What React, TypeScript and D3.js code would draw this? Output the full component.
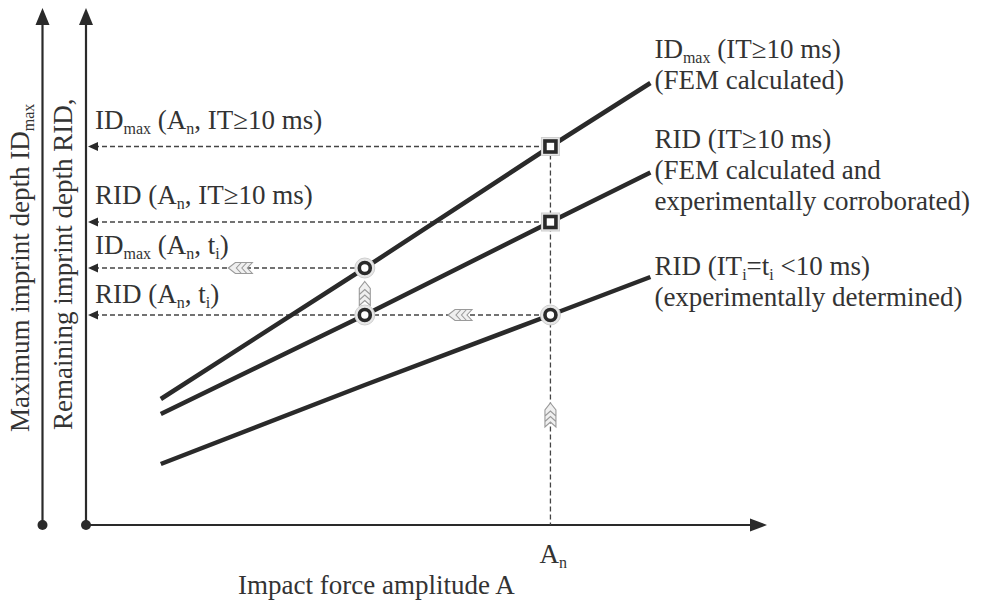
import * as d3 from "d3";

const W = 981;
const H = 603;

// impact force amplitude A (arbitrary units): line start, t_i point, A_n, line end
const amplitude = [1.1, 4.1, 6.83, 8.3];
const idMaxLong = [2.52, 5.14, 7.57, 8.84]; // ID_max (IT >= 10 ms), FEM calculated
const ridLong = [2.22, 4.2, 6.06, 7.05]; // RID (IT >= 10 ms), FEM + experiments
const ridShort = [1.22, 2.8, 4.2, 4.96]; // RID (IT_i = t_i < 10 ms), experiments

const A_N = 6.83;
const T_I = 4.1;

// [text, isSubscript]
type Part = [string, boolean?];

const guides: { a: number; d: number; dy: number; label: Part[] }[] = [
  { a: A_N, d: 7.57, dy: -18, label: [["ID"], ["max", true], [" (A"], ["n", true], [", IT≥10 ms)"]] },
  { a: A_N, d: 6.06, dy: -18, label: [["RID (A"], ["n", true], [", IT≥10 ms)"]] },
  { a: T_I, d: 5.14, dy: -14, label: [["ID"], ["max", true], [" (A"], ["n", true], [", t"], ["i", true], [")"]] },
  { a: A_N, d: 4.2, dy: -12, label: [["RID (A"], ["n", true], [", t"], ["i", true], [")"]] },
];

const squares = [
  { a: A_N, d: 7.57 },
  { a: A_N, d: 6.06 },
];
const circles = [
  { a: T_I, d: 5.14 },
  { a: T_I, d: 4.2 },
  { a: A_N, d: 4.2 },
];

// chevron markers: position + direction
const chevrons = [
  { a: 2.27, d: 5.14, dir: "left" },
  { a: 5.5, d: 4.2, dir: "left" },
  { a: T_I, d: 4.63, dir: "up" },
  { a: A_N, d: 2.2, dir: "up" },
];

const seriesLabels: { values: number[]; anchor: number; lines: Part[][] }[] = [
  { values: idMaxLong, anchor: 1, lines: [[["ID"], ["max", true], [" (IT≥10 ms)"]], [["(FEM calculated)"]]] },
  {
    values: ridLong,
    anchor: 1,
    lines: [[["RID (IT≥10 ms)"]], [["(FEM calculated and"]], [["experimentally corroborated)"]]],
  },
  {
    values: ridShort,
    anchor: 0,
    lines: [[["RID (IT"], ["i", true], ["=t"], ["i", true], [" <10 ms)"]], [["(experimentally determined)"]]],
  },
];

const ink = "#2a2a2a";
const textColor = "#333";
const font = "'Liberation Serif', 'Times New Roman', serif";

const x = d3.scaleLinear().domain([0, 10]).range([86, 766]);
const y = d3.scaleLinear().domain([0, 10]).range([525, 25]);

const Rich = ({ parts, size = 27, sub = 16, shift = 5, ...rest }: any) => {
  let down = false;
  return (
    <text fontSize={size} fill={textColor} style={{ whiteSpace: "pre" }} {...rest}>
      {parts.map(([t, s]: Part, i: number) => {
        let dy = 0;
        if (s && !down) dy = shift;
        if (!s && down) dy = -shift;
        down = !!s;
        return (
          <tspan key={i} dy={dy} fontSize={s ? sub : size}>
            {t}
          </tspan>
        );
      })}
    </text>
  );
};

const chevronPath =
  "M0,-12 L5.5,-5 L5.5,12 L0,7 L-5.5,12 L-5.5,-5 Z M-5.5,1 L0,-4 L5.5,1 M-5.5,6.5 L0,1.5 L5.5,6.5";

export default function App() {
  const line = d3
    .line<number>()
    .x((_, i) => x(amplitude[i]))
    .y((d) => y(d));

  const x0 = x(0);
  const yBase = y(0);
  const axis1 = x0 - 43.5;
  const yTip = 8;
  const lineEnd = x(amplitude[amplitude.length - 1]);

  return (
    <svg
      width={W}
      height={H}
      style={{ position: "absolute", left: 0, top: 0, background: "#fff" }}
      fontFamily={font}
    >
      {/* vertical axes */}
      {[axis1, x0].map((ax, i) => (
        <g key={i}>
          <line x1={ax} x2={ax} y1={yBase} y2={yTip + 10} stroke={ink} strokeWidth={2.2} />
          <path d={`M${ax},${yTip} L${ax + 7},${yTip + 17} L${ax - 7},${yTip + 17} Z`} fill={ink} />
          <circle cx={ax} cy={yBase} r={5} fill={ink} />
        </g>
      ))}
      {/* horizontal axis */}
      <line x1={x0} x2={x(10) - 10} y1={yBase} y2={yBase} stroke={ink} strokeWidth={2.2} />
      <path d={`M${x(10) + 1},${yBase} L${x(10) - 16},${yBase - 6.5} L${x(10) - 16},${yBase + 6.5} Z`} fill={ink} />

      {/* guide lines */}
      {guides.map((g, i) => (
        <g key={i}>
          <line
            x1={x0 + 8}
            x2={x(g.a)}
            y1={y(g.d)}
            y2={y(g.d)}
            stroke="#444"
            strokeWidth={1.3}
            strokeDasharray="5 3"
          />
          <path d={`M${x0 + 2},${y(g.d)} L${x0 + 12},${y(g.d) - 4.5} L${x0 + 12},${y(g.d) + 4.5} Z`} fill={ink} />
          <Rich parts={g.label} x={x0 + 9} y={y(g.d) + g.dy} />
        </g>
      ))}
      <line
        x1={x(A_N)}
        x2={x(A_N)}
        y1={y(squares[0].d)}
        y2={yBase}
        stroke="#444"
        strokeWidth={1.3}
        strokeDasharray="5 3"
      />

      {/* curves */}
      {[idMaxLong, ridLong, ridShort].map((s, i) => (
        <path key={i} d={line(s) ?? ""} fill="none" stroke={ink} strokeWidth={4.5} />
      ))}

      {/* chevrons */}
      {chevrons.map((c, i) => (
        <path
          key={i}
          d={chevronPath}
          transform={`translate(${x(c.a)},${y(c.d)}) rotate(${c.dir === "left" ? -90 : 0})`}
          fill="#f0f0f0"
          stroke="#9a9a9a"
          strokeWidth={1.1}
        />
      ))}

      {/* markers */}
      {circles.map((c, i) => (
        <g key={i} transform={`translate(${x(c.a)},${y(c.d)})`}>
          <circle r={10} fill="#e6e6e6" stroke="#cfcfcf" />
          <circle r={5.5} fill="#fff" stroke={ink} strokeWidth={3.6} />
        </g>
      ))}
      {squares.map((c, i) => (
        <g key={i} transform={`translate(${x(c.a)},${y(c.d)})`}>
          <rect x={-9} y={-9} width={18} height={18} fill="#e6e6e6" stroke="#cfcfcf" />
          <rect x={-5.5} y={-5.5} width={11} height={11} fill="#fff" stroke={ink} strokeWidth={3.6} />
        </g>
      ))}

      {/* series labels */}
      {seriesLabels.map((s, i) =>
        s.lines.map((ln, j) => (
          <Rich
            key={`${i}-${j}`}
            parts={ln}
            x={lineEnd + 4}
            y={y(s.values[s.values.length - 1]) + 6 + (j - s.anchor) * 31 - (s.anchor === 0 ? 8 : 0)}
          />
        ))
      )}

      {/* x tick label */}
      <Rich parts={[["A"], ["n", true]]} x={x(A_N) - 11} y={563} />
      <Rich parts={[["Impact force amplitude A"]]} x={238} y={594} />

      {/* y axis titles */}
      <Rich
        parts={[["Maximum imprint depth ID"], ["max", true]]}
        transform={`translate(${axis1 - 13.5},432) rotate(-90)`}
      />
      <Rich parts={[["Remaining imprint depth RID,"]]} transform={`translate(${x0 - 14},430) rotate(-90)`} />
    </svg>
  );
}
